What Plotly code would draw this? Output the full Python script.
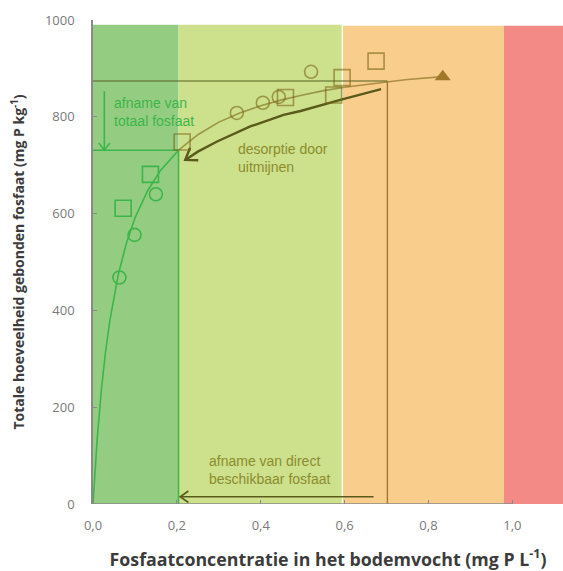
import math
import plotly.graph_objects as go

# ---------------- data ----------------
x_ticks = [0.0, 0.2, 0.4, 0.6, 0.8, 1.0]
x_tick_labels = ["0,0", "0,2", "0,4", "0,6", "0,8", "1,0"]
y_ticks = [0, 200, 400, 600, 800, 1000]

# background classes (x from, x to)
band_dark_green = [0.0, 0.204]
band_light_green = [0.204, 0.593]
band_orange = [0.596, 0.980]
band_red = [0.980, 1.13]

# sorption curve
curve_x = [0, 0.005, 0.01, 0.02, 0.03, 0.04, 0.06, 0.08, 0.10, 0.13, 0.16, 0.204,
           0.25, 0.30, 0.35, 0.40, 0.45, 0.50, 0.55, 0.60, 0.65, 0.70, 0.75, 0.80, 0.834]
curve_y = [0, 73, 135, 236, 315, 378, 473, 540, 591, 647, 688, 731,
           763, 789, 808, 823, 835, 845, 854, 861, 867, 872, 877, 881, 883]

# measured points
circ_green_x = [0.063, 0.099, 0.150]
circ_green_y = [468, 556, 640]
sq_green_x = [0.072, 0.137]
sq_green_y = [611, 681]
circ_olive_x = [0.343, 0.405, 0.443, 0.520]
circ_olive_y = [808, 829, 841, 893]
sq_olive_x = [0.2125, 0.459, 0.574, 0.594, 0.675]
sq_olive_y = [748, 840, 845, 881, 915]
tri_x = [0.834]
tri_y = [883]

# reference lines
level_high_y = 874
level_high_x = 0.702
level_low_y = 731
level_low_x = 0.204

# arrows
arrow_total_x = [0.027, 0.027]
arrow_total_y = [853, 731]
arrow_desorb_x = [0.687, 0.594, 0.495, 0.4545, 0.375, 0.296, 0.25, 0.22]
arrow_desorb_y = [857, 836, 812, 804, 780, 749, 728, 711]
arrow_direct_x = [0.669, 0.208]
arrow_direct_y = [15, 15]

# ---------------- layout geometry ----------------
W, H = 563, 571
ML, MR, MT, MB = 92.5, 0, 20, 67
X_RANGE = [0, (W - ML - MR) / 419.8]
Y_RANGE = [0, 1000]
px_per_x = (W - ML - MR) / (X_RANGE[1] - X_RANGE[0])
px_per_y = (H - MT - MB) / (Y_RANGE[1] - Y_RANGE[0])

GREEN = "#3DB54A"
OLIVE = "rgba(120,100,20,0.6)"
OLIVE_TXT = "#8C8C2C"
DARK_OLIVE = "#5A5A1A"
BROWN = "#A07830"

fig = go.Figure()


def band(rng, color, top):
    fig.add_shape(type="rect", xref="x", yref="y", x0=rng[0], x1=rng[1], y0=0, y1=top,
                  fillcolor=color, line=dict(width=0), layer="below")


band(band_dark_green, "#94CD82", 990)
band(band_light_green, "#CDE08C", 990)
band(band_orange, "#F9CD8C", 988)
band(band_red, "#F38A86", 988)


def line(xs, ys, color, width):
    fig.add_trace(go.Scatter(x=xs, y=ys, mode="lines", line=dict(color=color, width=width),
                             hoverinfo="skip", showlegend=False))


def chevron(xs, ys, color, width, arm=9, half_angle=35):
    # arrowhead at the last point of xs/ys, pointing along the last segment
    tx, ty = xs[-1], ys[-1]
    dxp = (xs[-1] - xs[-2]) * px_per_x
    dyp = (ys[-1] - ys[-2]) * px_per_y
    n = math.hypot(dxp, dyp)
    ux, uy = dxp / n, dyp / n
    pts_x, pts_y = [], []
    for sgn in (1, -1):
        a = math.radians(half_angle) * sgn
        bx = -(ux * math.cos(a) - uy * math.sin(a))
        by = -(ux * math.sin(a) + uy * math.cos(a))
        pts_x.append(tx + bx * arm / px_per_x)
        pts_y.append(ty + by * arm / px_per_y)
    line([pts_x[0], tx, pts_x[1]], [pts_y[0], ty, pts_y[1]], color, width)


# curve
n_green = curve_x.index(level_low_x) + 1
line(curve_x[:n_green], curve_y[:n_green], GREEN, 1.6)
line(curve_x[n_green - 1:], curve_y[n_green - 1:], OLIVE, 1.6)

# reference lines
line([0, level_high_x], [level_high_y, level_high_y], "#55601F", 1.2)
line([level_high_x, level_high_x], [level_high_y, 0], BROWN, 1.4)
line([0, level_low_x], [level_low_y, level_low_y], GREEN, 1.5)
line([level_low_x, level_low_x], [level_low_y, 0], GREEN, 1.5)

# arrows
line(arrow_total_x, arrow_total_y, GREEN, 1.6)
chevron(arrow_total_x, arrow_total_y, GREEN, 1.6, arm=9, half_angle=38)
line(arrow_desorb_x, arrow_desorb_y, DARK_OLIVE, 2.4)
chevron(arrow_desorb_x, arrow_desorb_y, DARK_OLIVE, 2.4, arm=13, half_angle=35)
line(arrow_direct_x, arrow_direct_y, DARK_OLIVE, 1.6)
chevron(arrow_direct_x, arrow_direct_y, DARK_OLIVE, 1.6, arm=10, half_angle=35)


def markers(xs, ys, symbol, color, size, filled=False):
    fig.add_trace(go.Scatter(
        x=xs, y=ys, mode="markers", hoverinfo="skip", showlegend=False,
        marker=dict(symbol=symbol, size=size, color=color,
                    line=dict(color=color, width=0 if filled else 1.6))))


markers(circ_green_x, circ_green_y, "circle-open", GREEN, 13)
markers(sq_green_x, sq_green_y, "square-open", GREEN, 16)
markers(circ_olive_x, circ_olive_y, "circle-open", OLIVE, 13)
markers(sq_olive_x, sq_olive_y, "square-open", OLIVE, 16)
markers(tri_x, tri_y, "triangle-up", "#A07828", 14, filled=True)

# x axis line only up to 1,0
fig.add_shape(type="line", xref="x", yref="y", x0=0, x1=1.0, y0=0, y1=0,
              line=dict(color="#8A8A8A", width=1.5), layer="above")

TXT_FONT = "Liberation Sans, Arial, sans-serif"
fig.add_annotation(x=0.0446, y=810, xref="x", yref="y", xanchor="left", yanchor="middle",
                   align="left", showarrow=False, text="afname van<br>totaal fosfaat",
                   font=dict(family=TXT_FONT, size=14, color=GREEN))
fig.add_annotation(x=0.342, y=715, xref="x", yref="y", xanchor="left", yanchor="middle",
                   align="left", showarrow=False, text="desorptie door<br>uitmijnen",
                   font=dict(family=TXT_FONT, size=14, color=OLIVE_TXT))
fig.add_annotation(x=0.272, y=71, xref="x", yref="y", xanchor="left", yanchor="middle",
                   align="left", showarrow=False, text="afname van direct<br>beschikbaar fosfaat",
                   font=dict(family=TXT_FONT, size=14, color=OLIVE_TXT))

TICK_FONT = dict(family="Open Sans, sans-serif", size=13, color="#7A7A7A")

fig.update_layout(
    width=W, height=H,
    margin=dict(l=ML, r=MR, t=MT, b=MB, pad=0, autoexpand=False),
    paper_bgcolor="white", plot_bgcolor="white",
    showlegend=False,
    xaxis=dict(range=X_RANGE, tickvals=x_ticks, ticktext=x_tick_labels, automargin=False,
               showgrid=False, zeroline=False, showline=False,
               ticks="inside", ticklen=4, tickcolor="#8A8A8A", tickwidth=1,
               tickfont=TICK_FONT, ticklabelstandoff=12,
               title=dict(text="Fosfaatconcentratie in het bodemvocht (mg P L<sup>-1</sup>)",
                          font=dict(family="Open Sans, sans-serif", size=17.8, color="#3C3C3C",
                                    weight="bold"), standoff=20)),
    yaxis=dict(range=Y_RANGE, tickvals=y_ticks, automargin=False,
               showgrid=False, zeroline=False, showline=True, linecolor="#8A8A8A", linewidth=1.5,
               ticks="inside", ticklen=4, tickcolor="#8A8A8A", tickwidth=1,
               tickfont=TICK_FONT, ticklabelstandoff=14,
               title=dict(text="Totale hoeveelheid gebonden fosfaat (mg P kg<sup>-1</sup>)",
                          font=dict(family="Open Sans, sans-serif", size=14, color="#3C3C3C",
                                    weight="bold"), standoff=17)),
)

fig.write_html("out.html", config={"displayModeBar": False},
               post_script="document.body.style.margin='0px';document.body.style.overflow='hidden';")
